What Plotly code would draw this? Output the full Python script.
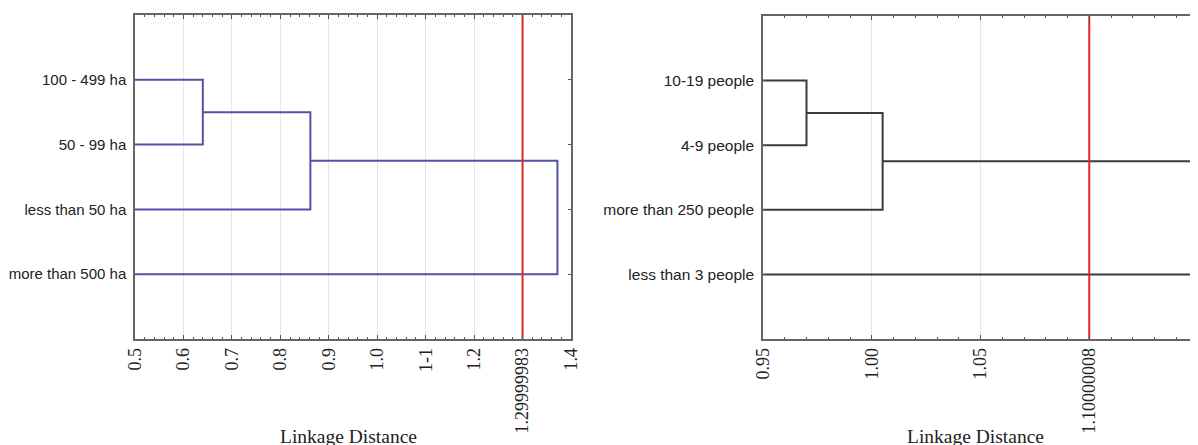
import plotly.graph_objects as go

# ---------------- data ----------------
farm_labels = ["100 - 499 ha", "50 - 99 ha", "less than 50 ha", "more than 500 ha"]
farm_merge_heights = [0.64, 0.862, 1.372]   # (0,1) -> +2 -> +3
farm_cutoff = 1.29999983
farm_tickvals = [0.5, 0.6, 0.7, 0.8, 0.9, 1.0, 1.1, 1.2, 1.29999983, 1.4]
farm_ticktext = ["0.5", "0.6", "0.7", "0.8", "0.9", "1.0", "1-1", "1.2", "1.29999983", "1.4"]
farm_range = [0.5, 1.4]

staff_labels = ["10-19 people", "4-9 people", "more than 250 people", "less than 3 people"]
staff_merge_heights = [0.970, 1.005, 1.148]
staff_cutoff = 1.10000008
staff_tickvals = [0.95, 1.00, 1.05, 1.10000008, 1.15]
staff_ticktext = ["0.95", "1.00", "1.05", "1.10000008", "1.15"]
staff_range = [0.95, 1.15]

# page is 1198x445; the html body has an 8px margin, so the figure is offset
OFF = 8
W, H = 1198 - OFF, 445 - OFF


def px_x(x):
    return (x - OFF) / W


def px_y(y):
    return (H - (y - OFF)) / H


def dendro_xy(heights, base):
    """Build x/y polyline (None-separated) for a chained 4-leaf dendrogram."""
    xs, ys = [], []
    pos = [1, 2, 3, 4]
    h1, h2, h3 = heights

    def seg(pts):
        for px, py in pts:
            xs.append(px)
            ys.append(py)
        xs.append(None)
        ys.append(None)

    seg([(base, pos[0]), (h1, pos[0]), (h1, pos[1]), (base, pos[1])])
    ya = (pos[0] + pos[1]) / 2
    seg([(h1, ya), (h2, ya), (h2, pos[2]), (base, pos[2])])
    yb = (ya + pos[2]) / 2
    seg([(h2, yb), (h3, yb), (h3, pos[3]), (base, pos[3])])
    return xs, ys


fig = go.Figure()

fx, fy = dendro_xy(farm_merge_heights, farm_range[0])
fig.add_trace(go.Scatter(x=fx, y=fy, mode="lines", xaxis="x", yaxis="y",
                         line=dict(color="#5252a6", width=2), showlegend=False,
                         hoverinfo="skip", cliponaxis=False))
fig.add_trace(go.Scatter(x=[farm_cutoff, farm_cutoff], y=[0, 5], mode="lines",
                         xaxis="x", yaxis="y", line=dict(color="#e0262a", width=2),
                         showlegend=False, hoverinfo="skip"))

sx, sy = dendro_xy(staff_merge_heights, staff_range[0])
fig.add_trace(go.Scatter(x=sx, y=sy, mode="lines", xaxis="x2", yaxis="y2",
                         line=dict(color="#3a3a3a", width=2), showlegend=False,
                         hoverinfo="skip", cliponaxis=False))
fig.add_trace(go.Scatter(x=[staff_cutoff, staff_cutoff], y=[0, 5], mode="lines",
                         xaxis="x2", yaxis="y2", line=dict(color="#e0262a", width=2),
                         showlegend=False, hoverinfo="skip"))

serif = "Liberation Serif, Times New Roman, serif"
sans = "Liberation Sans, Arial, sans-serif"

common_x = dict(
    tickangle=-90, ticks="inside", ticklen=4, tickcolor="#555",
    showline=True, linecolor="#666", linewidth=1.5, mirror="ticks",
    showgrid=True, gridcolor="#e6e6ec", gridwidth=1, zeroline=False,
    tickfont=dict(family=serif, size=18, color="#222"),
    tickmode="array", automargin=False,
)
common_y = dict(
    range=[5, 0], tickmode="array", tickvals=[1, 2, 3, 4],
    ticks="inside", ticklen=3, tickcolor="#555",
    showline=True, linecolor="#666", linewidth=1.5,
    showgrid=False, zeroline=False, ticklabelstandoff=4, automargin=False,
)

fig.update_layout(
    template="none",
    width=W, height=H,
    margin=dict(l=0, r=0, t=0, b=0, pad=0, autoexpand=False),
    paper_bgcolor="white", plot_bgcolor="white",
    xaxis=dict(domain=[px_x(135), px_x(571)], range=farm_range,
               tickvals=farm_tickvals, ticktext=farm_ticktext, anchor="y",
               minor=dict(ticks="inside", ticklen=2, dtick=0.02, tick0=0.5,
                          tickcolor="#555", showgrid=False),
               **common_x),
    yaxis=dict(domain=[px_y(339), px_y(15)], anchor="x",
               ticktext=farm_labels, mirror="ticks",
               tickfont=dict(family=sans, size=15, color="#222"),
               **common_y),
    xaxis2=dict(domain=[px_x(763), 1.0], range=staff_range,
                tickvals=staff_tickvals, ticktext=staff_ticktext, anchor="y2",
                minor=dict(ticks="inside", ticklen=2, dtick=0.01, tick0=0.95,
                           tickcolor="#555", showgrid=False),
                **common_x),
    yaxis2=dict(domain=[px_y(339), px_y(16)], anchor="x2",
                ticktext=staff_labels, mirror=False,
                tickfont=dict(family=sans, size=15.5, color="#222"),
                **common_y),
    annotations=[
        dict(text="Linkage Distance", xref="paper", yref="paper",
             x=px_x(348), y=px_y(424), xanchor="center", yanchor="top",
             showarrow=False, font=dict(family=serif, size=19.5, color="#222")),
        dict(text="Linkage Distance", xref="paper", yref="paper",
             x=px_x(975), y=px_y(424), xanchor="center", yanchor="top",
             showarrow=False, font=dict(family=serif, size=19.5, color="#222")),
    ],
)

fig.write_html("out.html")
